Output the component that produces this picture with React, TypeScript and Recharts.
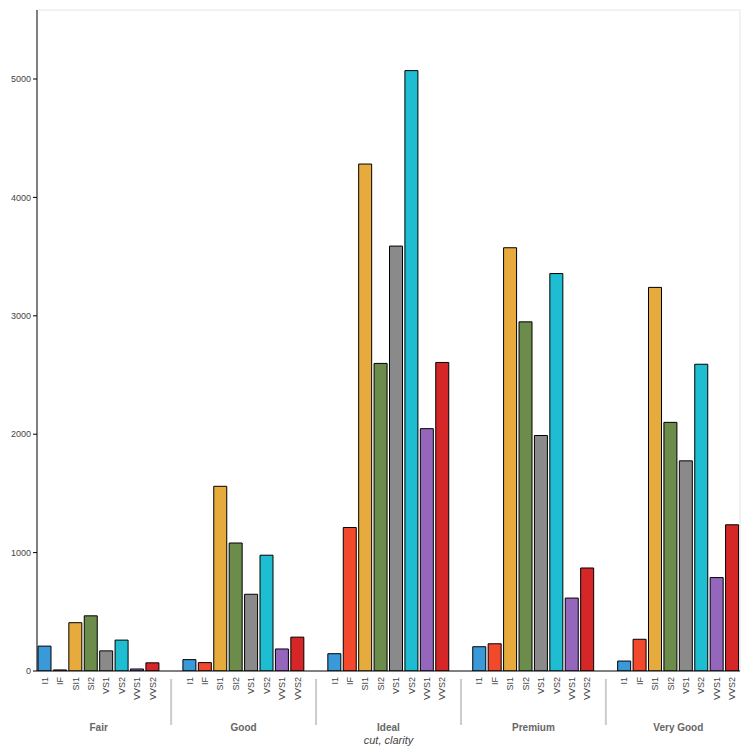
import React from "react";
import { BarChart, Bar, XAxis, YAxis, Cell, ReferenceLine } from "recharts";

const cuts = ["Fair", "Good", "Ideal", "Premium", "Very Good"];
const clarities = ["I1", "IF", "SI1", "SI2", "VS1", "VS2", "VVS1", "VVS2"];
const colors = ["#3a9ad9", "#f2492c", "#e6ab3c", "#6b8c4a", "#8a8a8a", "#1fbdd2", "#9467bd", "#d62728"];
const counts = [
  [210, 9, 408, 466, 170, 261, 17, 69],
  [96, 71, 1560, 1081, 648, 978, 186, 286],
  [146, 1212, 4282, 2598, 3589, 5071, 2047, 2606],
  [205, 230, 3575, 2949, 1989, 3357, 616, 870],
  [84, 268, 3240, 2100, 1775, 2591, 789, 1235],
];
const yTicks = [0, 1000, 2000, 3000, 4000, 5000];

const GROUP = 9.4;
const XMAX = 4 * GROUP + 8;
const PLOT_W = 703;
const UNIT = PLOT_W / XMAX;

const data = cuts.flatMap((c, g) =>
  clarities.map((cl, i) => ({ x: g * GROUP + i + 0.5, cut: c, clarity: cl, count: counts[g][i], color: colors[i] }))
);
const groupTicks = cuts.map((_, g) => g * GROUP + 4);

const ClarityTick = (props: any) => {
  const { x, y, payload } = props;
  const d = data.find((p) => Math.abs(p.x - payload.value) < 0.01);
  return (
    <text x={x} y={y + 4} transform={`rotate(-90 ${x} ${y + 4})`} textAnchor="end" dy={3} fontSize={9} fill="#444">
      {d ? d.clarity : ""}
    </text>
  );
};

const GroupTick = (props: any) => {
  const { x, y, index } = props;
  const sepX = x - 4.7 * UNIT;
  return (
    <g>
      <text x={x} y={y + 10} textAnchor="middle" fontSize={10} fontWeight="bold" fill="#666">
        {cuts[index]}
      </text>
      {index > 0 && <line x1={sepX} x2={sepX} y1={y - 42} y2={y + 4} stroke="#ccc" strokeWidth={2} />}
    </g>
  );
};

export default function App() {
  return (
    <div style={{ position: "absolute", left: 0, top: 0, width: 750, height: 750, background: "#fff", fontFamily: "Liberation Sans, Arial, sans-serif" }}>
      <BarChart width={750} height={750} data={data} margin={{ top: 10, right: 10, left: 0, bottom: 15 }}>
        <YAxis
          width={37}
          domain={[0, 5583]}
          ticks={yTicks}
          tick={{ fontSize: 9, fill: "#444" }}
          tickSize={4}
          stroke="#000"
          allowDataOverflow
        />
        <XAxis
          xAxisId="c"
          type="number"
          dataKey="x"
          domain={[0, XMAX]}
          ticks={data.map((d) => d.x)}
          tick={<ClarityTick />}
          interval={0}
          height={42}
          stroke="#000"
          tickSize={0}
        />
        <XAxis
          xAxisId="g"
          type="number"
          dataKey="x"
          domain={[0, XMAX]}
          ticks={groupTicks}
          tick={<GroupTick />}
          interval={0}
          height={22}
          axisLine={false}
          tickLine={false}
        />
        <ReferenceLine xAxisId="c" y={5583} stroke="#e5e5e5" />
        <ReferenceLine xAxisId="c" x={XMAX} stroke="#e5e5e5" />
        <Bar xAxisId="c" dataKey="count" barSize={13} stroke="#000" strokeWidth={1} isAnimationActive={false}>
          {data.map((d, i) => (
            <Cell key={i} fill={d.color} />
          ))}
        </Bar>
      </BarChart>
      <div style={{ position: "absolute", top: 734, left: 0, width: 777, textAlign: "center", fontSize: 11, fontStyle: "italic", color: "#444" }}>
        cut, clarity
      </div>
    </div>
  );
}
